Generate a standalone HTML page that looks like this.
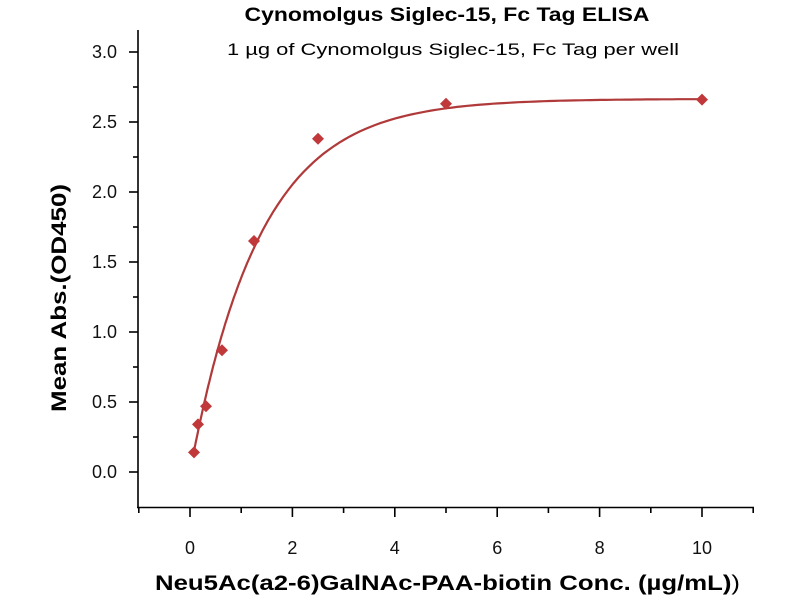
<!DOCTYPE html>
<html><head><meta charset="utf-8"><style>
html,body{margin:0;padding:0;background:#fff;}
svg{display:block;font-family:"Liberation Sans","DejaVu Sans",sans-serif;}
</style></head><body>
<svg width="800" height="600" viewBox="0 0 800 600" xmlns="http://www.w3.org/2000/svg">
<text x="447" y="21" text-anchor="middle" font-size="19" font-weight="bold" textLength="405" lengthAdjust="spacingAndGlyphs">Cynomolgus Siglec-15, Fc Tag ELISA</text>
<text x="453" y="55" text-anchor="middle" font-size="17" textLength="452" lengthAdjust="spacingAndGlyphs">1 µg of Cynomolgus Siglec-15, Fc Tag per well</text>
<g stroke="#000" stroke-width="1.6" fill="none">
<line x1="138" y1="30" x2="138" y2="508"/>
<line x1="137" y1="507.5" x2="754" y2="507.5"/>
<g id="yt"></g><g id="xt"></g>
</g>
<g id="ylab" font-size="18" text-anchor="end" fill="#111"></g>
<g id="xlab" font-size="18" text-anchor="middle" fill="#111"></g>
<text transform="translate(66,298) rotate(-90)" text-anchor="middle" font-size="21" font-weight="bold" textLength="228" lengthAdjust="spacingAndGlyphs">Mean Abs.(OD450)</text>
<text x="155" y="590" font-size="21" font-weight="bold" textLength="585" lengthAdjust="spacingAndGlyphs">Neu5Ac(a2-6)GalNAc-PAA-biotin Conc. (µg/mL)<tspan font-weight="normal">)</tspan></text>
<polyline id="curve" fill="none" stroke="#b03a3a" stroke-width="2.2"/>
<g id="pts" fill="#c0383a"></g>
</svg>
<script>
var X=function(v){return 190+v*51.2;},Y=function(v){return 472-v*140;};
var ns="http://www.w3.org/2000/svg";
function el(p,t,a){var e=document.createElementNS(ns,t);for(var k in a)e.setAttribute(k,a[k]);p.appendChild(e);return e;}
var yt=document.getElementById('yt'),xt=document.getElementById('xt');
for(var i=-1;i<=12;i++){var v=i*0.25;if(v<-0.2)continue;var y=Y(v);el(yt,'line',{x1:i%2==0?129:133,y1:y,x2:138,y2:y});
 if(i%2==0&&i>=0){var t=el(document.getElementById('ylab'),'text',{x:117,y:y+6});t.textContent=v.toFixed(1);}}
for(var j=-1;j<=11;j++){var x=X(j);el(xt,'line',{x1:x,y1:507,x2:x,y2:j%2==0?517:513});
 if(j%2==0&&j>=0){var t2=el(document.getElementById('xlab'),'text',{x:x,y:554});t2.textContent=j;}}
var s=[];
for(var xv=0.078;xv<=10.0001;xv+=(xv<1?0.02:0.1)){var yv=2.665*(1-Math.exp(-xv/1.36));s.push(X(xv).toFixed(1)+','+Y(yv).toFixed(1));}
s.push(X(10).toFixed(1)+','+Y(2.665*(1-Math.exp(-10/1.36))).toFixed(1));
document.getElementById('curve').setAttribute('points',s.join(' '));
var d=[[0.078,0.14],[0.156,0.34],[0.3125,0.47],[0.625,0.87],[1.25,1.65],[2.5,2.38],[5,2.63],[10,2.66]];
d.forEach(function(p){var x=X(p[0]),y=Y(p[1]);el(document.getElementById('pts'),'polygon',{points:(x)+','+(y-6)+' '+(x+6)+','+y+' '+x+','+(y+6)+' '+(x-6)+','+y});});
</script>
</body></html>
